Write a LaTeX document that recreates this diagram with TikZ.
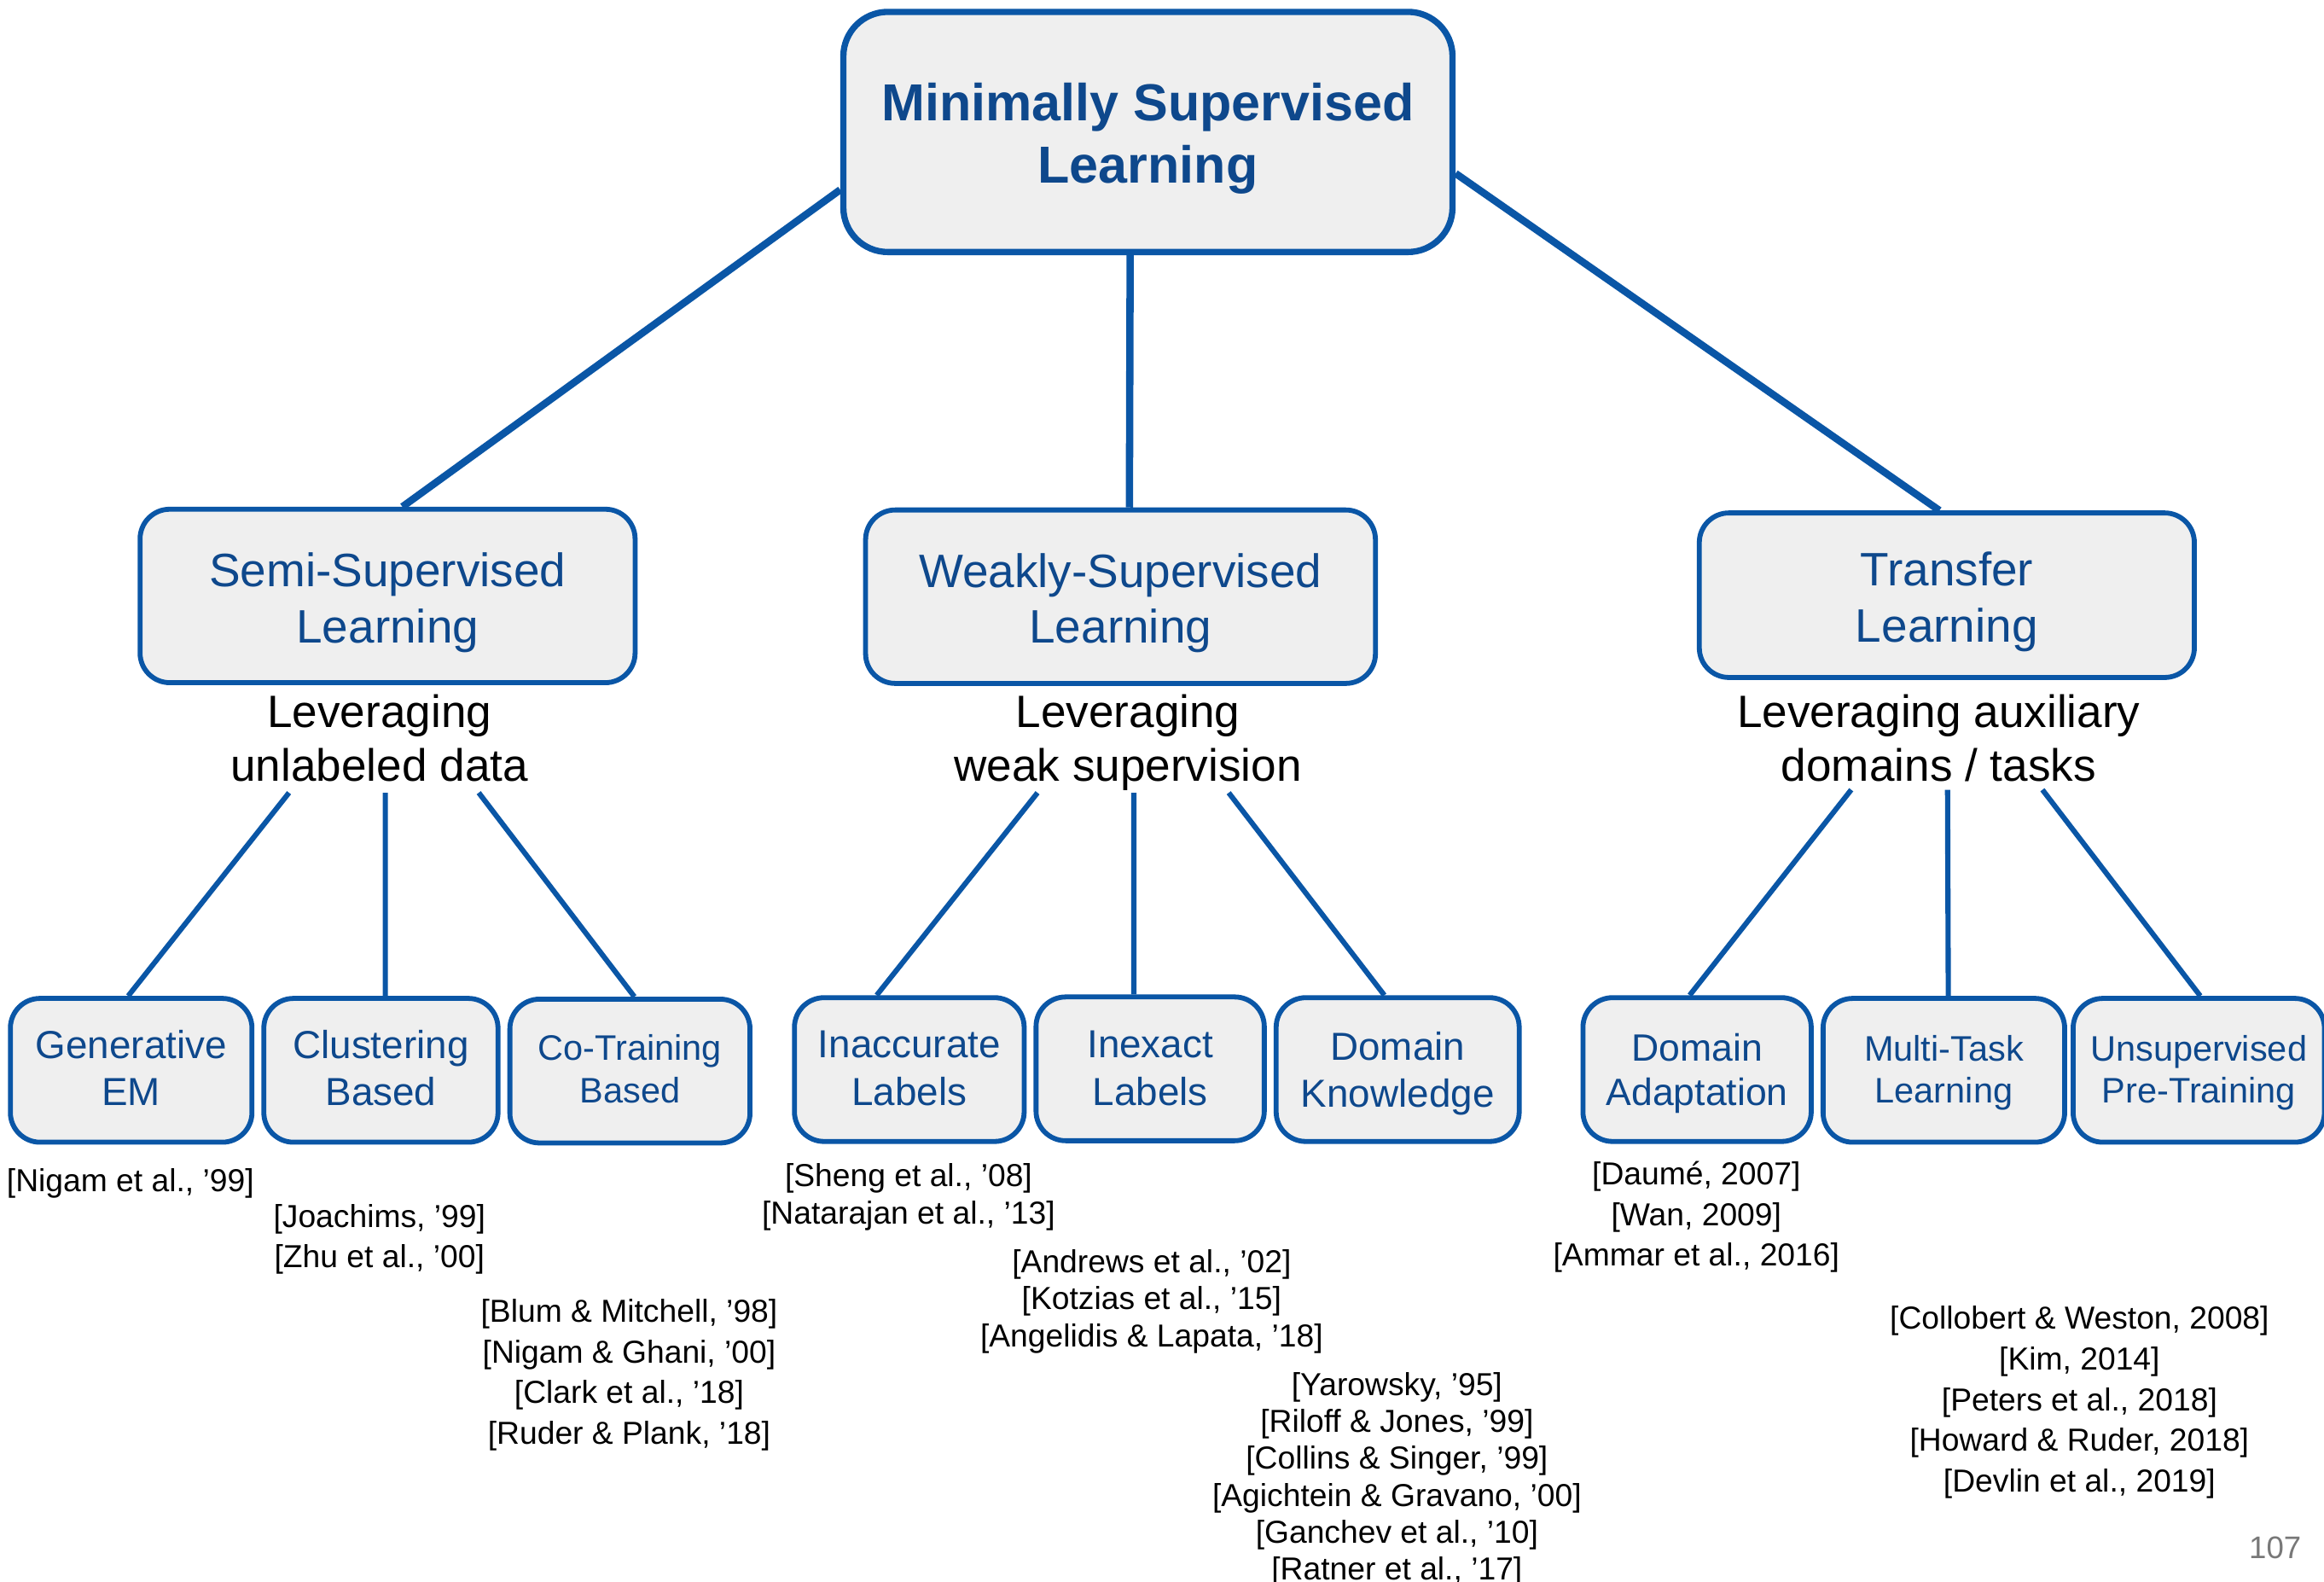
\documentclass[tikz,border=0pt]{standalone}
\usepackage{fontspec}
\setmainfont{Liberation Sans}
\usetikzlibrary{positioning}
\definecolor{boxblue}{RGB}{10,86,166}
\definecolor{textblue}{RGB}{14,72,140}
\definecolor{boxfill}{RGB}{239,239,239}
\definecolor{pagegray}{RGB}{120,120,120}
% box text, drawn a little lower than the box centre
\newcommand{\boxtext}[2][1.4pt]{\raisebox{-#1}[\height][\depth]{\begin{tabular}{@{}c@{}}#2\end{tabular}}}

\begin{document}
\begin{tikzpicture}[
	box/.style={draw=boxblue, fill=boxfill, rounded corners=0.2cm, align=center, text=textblue},
	rootbox/.style={box, line width=1.2pt, rounded corners=0.3cm, minimum width=4.11cm, minimum height=1.62cm, font=\fontsize{10}{12}\selectfont\bfseries},
	midbox/.style={box, line width=0.95pt, minimum width=3.34cm, minimum height=1.17cm, font=\fontsize{9}{10.8}\selectfont},
	leaf/.style={box, line width=0.95pt, minimum width=1.58cm, minimum height=0.97cm, font=\fontsize{7.5}{9.1}\selectfont},
	smallleaf/.style={leaf, font=\fontsize{6.8}{8.1}\selectfont},
	desc/.style={align=center, font=\fontsize{8.7}{10.3}\selectfont},
	cite/.style={align=center, font=\fontsize{6.1}{7.8}\selectfont},
	tightcite/.style={cite, font=\fontsize{6.1}{7.1}\selectfont},
	link/.style={draw=boxblue, line width=1.4pt},
	sublink/.style={draw=boxblue, line width=1pt}
]
	\useasboundingbox (0,0) rectangle (15.68,-10.67);

	% root and the three families
	\node[rootbox] (msl) at (7.745,-0.89) {\boxtext{Minimally Supervised\\Learning}};
	\node[midbox] (semi) at (2.615,-4.02) {\boxtext{Semi-Supervised\\Learning}};
	\node[midbox, minimum width=3.44cm] (weak) at (7.56,-4.025) {\boxtext{Weakly-Supervised\\Learning}};
	\node[midbox, minimum height=1.11cm] (transfer) at (13.135,-4.015) {\boxtext{Transfer\\Learning}};

	\node[desc] (semidesc) at (2.56,-4.98) {Leveraging\\unlabeled data};
	\node[desc] (weakdesc) at (7.61,-5.01) {Leveraging\\weak supervision};
	\node[desc] (transdesc) at (13.08,-4.98) {Leveraging auxiliary\\domains / tasks};

	\draw[link] ([yshift=-0.39cm]msl.west) -- ([xshift=0.1cm]semi.north);
	\draw[link] ([xshift=-0.12cm]msl.south) -- ([xshift=0.06cm]weak.north);
	\draw[link] ([yshift=-0.28cm]msl.east) -- ([xshift=-0.05cm]transfer.north);

	% methods
	\node[leaf, minimum width=1.63cm] (gen) at (0.885,-7.22) {\boxtext[0.4pt]{Generative\\EM}};
	\node[leaf] (clus) at (2.57,-7.22) {\boxtext[0.4pt]{Clustering\\Based}};
	\node[smallleaf, minimum width=1.62cm] (cotr) at (4.25,-7.225) {\boxtext[0.4pt]{Co-Training\\Based}};
	\node[leaf, minimum width=1.55cm] (inacc) at (6.135,-7.215) {\boxtext[0.5pt]{Inaccurate\\Labels}};
	\node[leaf, minimum width=1.54cm] (inex) at (7.76,-7.21) {\boxtext[0.6pt]{Inexact\\Labels}};
	\node[leaf, minimum width=1.64cm] (domk) at (9.43,-7.215) {\boxtext[0.9pt]{Domain\\Knowledge}};
	\node[leaf, minimum width=1.54cm, font=\fontsize{7.3}{8.6}\selectfont] (doma) at (11.45,-7.215) {\boxtext[0.9pt]{Domain\\Adaptation}};
	\node[smallleaf, minimum width=1.63cm] (mtl) at (13.115,-7.22) {\boxtext[0.6pt]{Multi-Task\\Learning}};
	\node[smallleaf, minimum width=1.65cm] (upt) at (14.835,-7.22) {\boxtext[0.6pt]{Unsupervised\\Pre-Training}};

	\draw[sublink] ([xshift=-0.61cm,yshift=0.05cm]semidesc.south) -- ([xshift=-0.02cm]gen.north);
	\draw[sublink] ([xshift=0.04cm,yshift=0.05cm]semidesc.south) -- ([xshift=0.03cm]clus.north);
	\draw[sublink] ([xshift=0.67cm,yshift=0.05cm]semidesc.south) -- ([xshift=0.03cm]cotr.north);
	\draw[sublink] ([xshift=-0.61cm,yshift=0.11cm]weakdesc.south) -- ([xshift=-0.22cm]inacc.north);
	\draw[sublink] ([xshift=0.04cm,yshift=0.11cm]weakdesc.south) -- ([xshift=-0.11cm]inex.north);
	\draw[sublink] ([xshift=0.68cm,yshift=0.11cm]weakdesc.south) -- ([xshift=-0.09cm]domk.north);
	\draw[sublink] ([xshift=-0.59cm,yshift=0.07cm]transdesc.south) -- ([xshift=-0.05cm]doma.north);
	\draw[sublink] ([xshift=0.06cm,yshift=0.07cm]transdesc.south) -- ([xshift=0.03cm]mtl.north);
	\draw[sublink] ([xshift=0.7cm,yshift=0.07cm]transdesc.south) -- ([xshift=0.01cm]upt.north);

	% references
	\node[cite] (nigam) at (0.88,-7.98) {[Nigam et al., ’99]};
	\node[cite] (joachims) at (2.56,-8.36) {[Joachims, ’99]\\{}[Zhu et al., ’00]};
	\node[cite] (blum) at (4.245,-9.275) {[Blum \& Mitchell, ’98]\\{}[Nigam \& Ghani, ’00]\\{}[Clark et al., ’18]\\{}[Ruder \& Plank, ’18]};
	\node[tightcite] (sheng) at (6.13,-8.075) {[Sheng et al., ’08]\\{}[Natarajan et al., ’13]};
	\node[tightcite] (andrews) at (7.77,-8.78) {[Andrews et al., ’02]\\{}[Kotzias et al., ’15]\\{}[Angelidis \& Lapata, ’18]};
	\node[tightcite] (yarowsky) at (9.425,-9.98) {[Yarowsky, ’95]\\{}[Riloff \& Jones, ’99]\\{}[Collins \& Singer, ’99]\\{}[Agichtein \& Gravano, ’00]\\{}[Ganchev et al., ’10]\\{}[Ratner et al., ’17]};
	\node[cite] (daume) at (11.445,-8.21) {[Daumé, 2007]\\{}[Wan, 2009]\\{}[Ammar et al., 2016]};
	\node[cite] (collobert) at (14.03,-9.46) {[Collobert \& Weston, 2008]\\{}[Kim, 2014]\\{}[Peters et al., 2018]\\{}[Howard \& Ruder, 2018]\\{}[Devlin et al., 2019]};

	\node[text=pagegray, font=\fontsize{6}{7}\selectfont] (pagenum) at (15.35,-10.44) {107};
\end{tikzpicture}
\end{document}
